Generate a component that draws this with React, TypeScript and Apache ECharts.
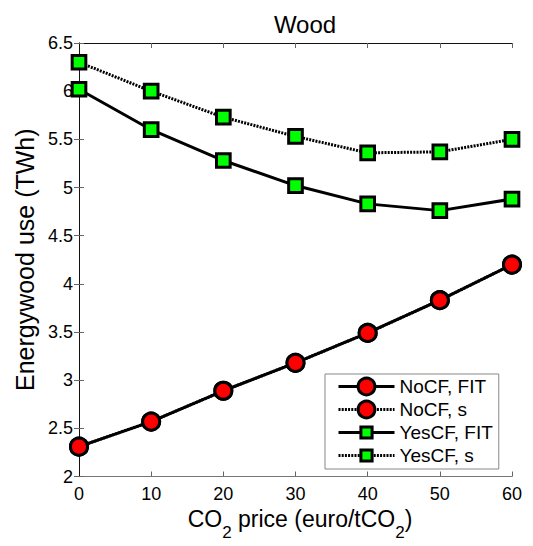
import React, { useEffect, useRef } from 'react';
import * as echarts from 'echarts';

const co2Prices = [0, 10, 20, 30, 40, 50, 60];
const noCfFit = [2.31, 2.57, 2.89, 3.18, 3.49, 3.83, 4.2];
const noCfS = [2.31, 2.57, 2.89, 3.18, 3.49, 3.83, 4.2];
const yesCfFit = [6.02, 5.6, 5.28, 5.02, 4.83, 4.76, 4.88];
const yesCfS = [6.3, 6.0, 5.73, 5.53, 5.36, 5.37, 5.5];
const seriesNames = ['NoCF, FIT', 'NoCF, s', 'YesCF, FIT', 'YesCF, s'];
const xTicks = [0, 10, 20, 30, 40, 50, 60];
const yTicks = [2, 2.5, 3, 3.5, 4, 4.5, 5, 5.5, 6, 6.5];
const titleText = 'Wood';
const yName = 'Energywood use (TWh)';

const FONT = "'Liberation Sans', Arial, sans-serif";
// square marker with a little empty margin so legend squares come out smaller than circles
const SQUARE = 'path://M-2.5,-2.5M0,0L10,0L10,10L0,10ZM12.5,12.5';

const pairs = (ys: number[]) => co2Prices.map((x, i) => [x, ys[i]]);

export default function App() {
  const ref = useRef<HTMLDivElement>(null);
  useEffect(() => {
    if (!ref.current) return;
    const chart = echarts.init(ref.current, null, { renderer: 'svg' });
    const xMin = xTicks[0];
    const xMax = xTicks[xTicks.length - 1];
    const xInt = xTicks[1] - xTicks[0];
    const yMin = yTicks[0];
    const yMax = yTicks[yTicks.length - 1];
    const yInt = yTicks[1] - yTicks[0];

    const baseX = {
      type: 'value',
      min: xMin,
      max: xMax,
      interval: xInt,
      splitLine: { show: false },
      axisTick: { inside: true, length: 5, lineStyle: { color: '#666' } },
    };
    const baseY = {
      type: 'value',
      min: yMin,
      max: yMax,
      interval: yInt,
      splitLine: { show: false },
      axisTick: { inside: true, length: 5, lineStyle: { color: '#666' } },
      z: 3,
    };

    const mk = (
      name: string,
      data: number[],
      symbol: string,
      size: number,
      fill: string,
      dotted: boolean
    ) => ({
      name,
      type: 'line',
      data: pairs(data),
      xAxisIndex: 0,
      yAxisIndex: 0,
      symbol,
      symbolSize: size,
      showAllSymbol: true,
      clip: false,
      lineStyle: { color: '#000', width: 3, type: dotted ? [2, 1.2] : 'solid' },
      itemStyle: { color: fill, borderColor: '#000', borderWidth: 3 },
      emphasis: { disabled: true },
    });

    chart.setOption({
      animation: false,
      textStyle: { fontFamily: FONT },
      title: {
        text: titleText,
        left: 300,
        top: 7,
        textAlign: 'center',
        textStyle: { fontFamily: FONT, fontSize: 24, fontWeight: 'normal', color: '#000', lineHeight: 24 },
      },
      grid: { left: 79, right: 21, top: 43, bottom: 63 },
      legend: {
        orient: 'vertical',
        left: 325,
        top: 374,
        padding: [2.5, 6, 3.5, 12],
        itemGap: 3,
        itemWidth: 56,
        itemHeight: 21,
        backgroundColor: '#fff',
        borderColor: '#888',
        borderWidth: 1,
        borderRadius: 0,
        textStyle: { fontFamily: FONT, fontSize: 19, color: '#000', lineHeight: 20 },
        itemStyle: { borderWidth: 3, borderColor: '#000' },
        lineStyle: { width: 3 },
        data: seriesNames,
        selectedMode: false,
      },
      xAxis: [
        {
          ...baseX,
          position: 'bottom',
          axisLine: { lineStyle: { color: '#777', width: 1 } },
          axisLabel: { fontFamily: FONT, fontSize: 18, color: '#000', margin: 8 },
          name: '{m|CO}{sub|2}{m| price (euro/tCO}{sub|2}{m|)}',
          nameLocation: 'middle',
          nameGap: 31,
          nameTextStyle: {
            fontFamily: FONT,
            fontSize: 23,
            color: '#000',
            padding: [0, 0, 0, 9],
            rich: {
              m: {
                fontFamily: FONT,
                fontSize: 23,
                lineHeight: 24,
                color: '#000',
                verticalAlign: 'top',
              },
              sub: {
                fontFamily: FONT,
                fontSize: 17,
                lineHeight: 50,
                color: '#000',
                verticalAlign: 'middle',
              },
            },
          },
        },
        {
          ...baseX,
          position: 'top',
          axisLine: { lineStyle: { color: '#111', width: 1 } },
          axisLabel: { show: false },
        },
      ],
      yAxis: [
        {
          ...baseY,
          position: 'left',
          axisLine: { show: true, lineStyle: { color: '#777', width: 1 } },
          axisLabel: { fontFamily: FONT, fontSize: 18, color: '#000', margin: 6 },
          name: yName,
          nameLocation: 'middle',
          nameGap: 39,
          nameTextStyle: { fontFamily: FONT, fontSize: 25, color: '#000' },
        },
        {
          ...baseY,
          position: 'right',
          axisLine: { show: true, lineStyle: { color: '#111', width: 1 } },
          axisLabel: { show: false },
        },
      ],
      series: [
        mk(seriesNames[0], noCfFit, 'circle', 17, '#ff0000', false),
        mk(seriesNames[1], noCfS, 'circle', 17, '#ff0000', true),
        mk(seriesNames[2], yesCfFit, SQUARE, 20.5, '#00ff00', false),
        mk(seriesNames[3], yesCfS, SQUARE, 20.5, '#00ff00', true),
      ],
    });
    return () => chart.dispose();
  }, []);
  return (
    <div
      ref={ref}
      style={{ position: 'fixed', left: 0, top: 0, width: 533, height: 546, background: '#fff' }}
    />
  );
}
